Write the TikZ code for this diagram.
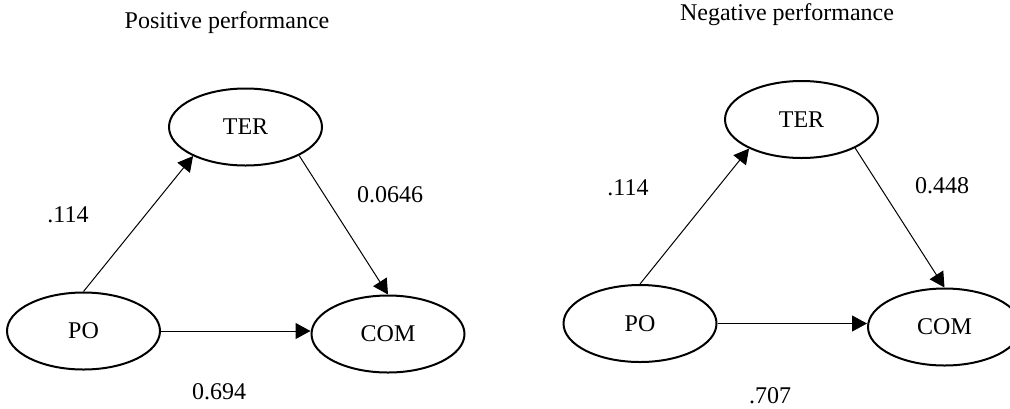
\documentclass[tikz,border=0pt]{standalone}
\usepackage{fontspec}
\setmainfont{Liberation Serif}
\usetikzlibrary{shapes.geometric,arrows.meta}

\begin{document}
\begin{tikzpicture}[x=0.5pt,y=-0.5pt,
			every node/.style={font=\fontsize{12pt}{14pt}\selectfont},
			var/.style={ellipse,draw,line width=1pt,minimum width=76.5pt,minimum height=38.5pt,inner sep=0pt},
			effect/.style={-{Triangle[length=7.5pt,width=8pt]},line width=0.5pt}]
			\useasboundingbox (0,0) rectangle (1010,408);
			\node (title1) at (227,23) {Positive performance};
			\node[var] (po1) at (83.5,331) {PO};
			\node[var] (ter1) at (245.5,127) {TER};
			\node[var] (com1) at (388,334) {COM};
			\draw[effect] (po1.north) -- (ter1.209);
			\draw[effect] (ter1.332) -- (com1.north);
			\draw[effect] (po1.east) -- (po1.east -| com1.west);
			\node (a1) at (68,215) {.114};
			\node (b1) at (390,195) {0.0646};
			\node (c1) at (219,392) {0.694};
			\node (title2) at (787,15) {Negative performance};
			\node[var] (po2) at (640,323.5) {PO};
			\node[var] (ter2) at (801.5,119.5) {TER};
			\node[var] (com2) at (944.5,327) {COM};
			\draw[effect] (po2.north) -- (ter2.209);
			\draw[effect] (ter2.332) -- (com2.north);
			\draw[effect] (po2.east) -- (po2.east -| com2.west);
			\node (a2) at (628,188) {.114};
			\node (b2) at (942,186) {0.448};
			\node (c2) at (770,396) {.707};
\end{tikzpicture}
\end{document}
